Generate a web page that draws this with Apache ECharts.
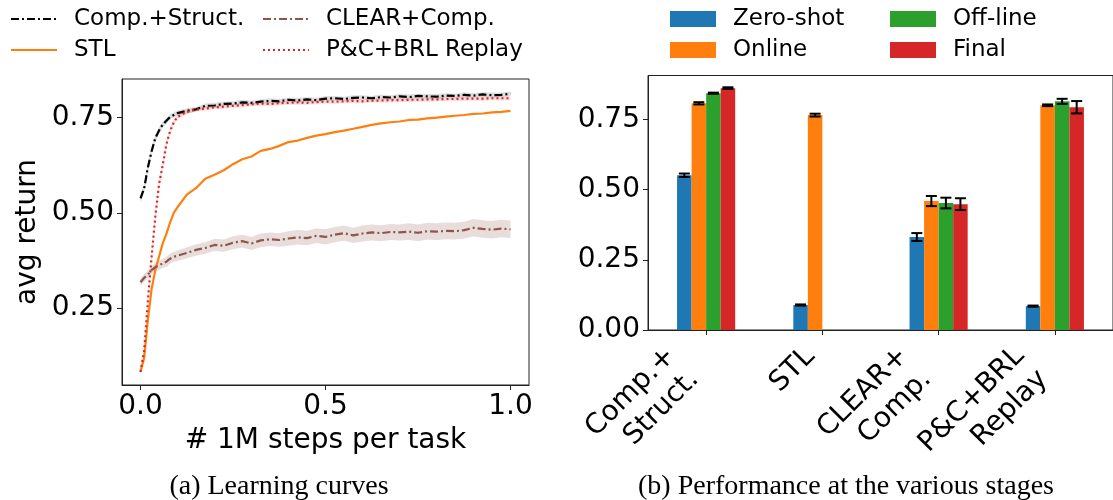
<!DOCTYPE html>
<html><head><meta charset="utf-8">
<script src="https://cdn.jsdelivr.net/npm/echarts@6/dist/echarts.min.js"></script>
<style>html,body{margin:0;padding:0;background:#fff}#c{width:1113px;height:500px}</style>
</head><body><div id="c"></div>
<script>
// ---------- (a) Learning curves ----------
const steps = [0,0.01,0.02,0.03,0.04,0.05,0.06,0.07,0.08,0.09,0.1,0.125,0.15,0.175,0.2,0.225,0.25,0.275,0.3,0.325,0.35,0.375,0.4,0.425,0.45,0.475,0.5,0.525,0.55,0.575,0.6,0.625,0.65,0.675,0.7,0.725,0.75,0.775,0.8,0.825,0.85,0.875,0.9,0.925,0.95,0.975,1.0];
const compStruct = [0.538,0.565,0.62,0.662,0.696,0.716,0.732,0.742,0.752,0.757,0.762,0.768,0.772,0.781,0.782,0.786,0.787,0.790,0.789,0.792,0.794,0.793,0.797,0.795,0.798,0.796,0.800,0.801,0.799,0.802,0.803,0.801,0.804,0.803,0.806,0.804,0.807,0.806,0.805,0.808,0.807,0.810,0.808,0.811,0.809,0.810,0.813];
const compStructBand = [0.012,0.012,0.012,0.011,0.010,0.009,0.008,0.008,0.007,0.007,0.007,0.007,0.006,0.006,0.007,0.006,0.006,0.007,0.006,0.006,0.007,0.006,0.006,0.007,0.006,0.006,0.007,0.006,0.006,0.007,0.006,0.006,0.007,0.006,0.006,0.007,0.006,0.006,0.007,0.006,0.006,0.007,0.006,0.006,0.007,0.006,0.006];
const stl = [0.083,0.12,0.22,0.30,0.35,0.385,0.42,0.445,0.475,0.50,0.515,0.548,0.565,0.590,0.600,0.612,0.628,0.641,0.648,0.663,0.668,0.676,0.686,0.690,0.697,0.703,0.707,0.712,0.716,0.721,0.726,0.731,0.735,0.738,0.740,0.744,0.745,0.748,0.750,0.753,0.755,0.757,0.760,0.761,0.764,0.765,0.768];
const clearComp = [0.318,0.33,0.338,0.35,0.358,0.362,0.368,0.372,0.38,0.385,0.388,0.395,0.403,0.408,0.416,0.414,0.422,0.426,0.420,0.428,0.431,0.429,0.433,0.436,0.434,0.440,0.437,0.443,0.447,0.441,0.446,0.449,0.447,0.450,0.449,0.451,0.448,0.452,0.451,0.453,0.452,0.455,0.461,0.458,0.456,0.459,0.457];
const clearCompBand = [0.010,0.010,0.011,0.011,0.012,0.012,0.012,0.013,0.013,0.013,0.014,0.014,0.015,0.015,0.016,0.016,0.017,0.017,0.017,0.018,0.018,0.018,0.019,0.019,0.019,0.019,0.020,0.020,0.020,0.020,0.021,0.021,0.021,0.021,0.021,0.022,0.022,0.022,0.022,0.022,0.022,0.022,0.023,0.023,0.023,0.023,0.023];
const pcReplay = [0.083,0.14,0.27,0.385,0.49,0.575,0.625,0.68,0.715,0.738,0.752,0.765,0.771,0.774,0.777,0.779,0.781,0.783,0.785,0.787,0.786,0.788,0.789,0.790,0.789,0.791,0.792,0.792,0.793,0.794,0.793,0.795,0.795,0.796,0.796,0.797,0.797,0.798,0.798,0.799,0.799,0.800,0.800,0.800,0.801,0.801,0.801];
const pcReplayBand = [0.004,0.008,0.012,0.014,0.014,0.012,0.010,0.009,0.008,0.007,0.006,0.006,0.005,0.006,0.005,0.006,0.005,0.006,0.005,0.006,0.005,0.006,0.005,0.006,0.005,0.006,0.005,0.006,0.005,0.006,0.005,0.006,0.005,0.006,0.005,0.006,0.005,0.006,0.005,0.006,0.005,0.006,0.005,0.006,0.005,0.006,0.005];
const lineXTicks = [0, 0.5, 1.0];
const lineYTicks = [0.25, 0.5, 0.75];

// ---------- (b) Performance at the various stages ----------
const categories = ['Comp.+\nStruct.', 'STL', 'CLEAR+\nComp.', 'P&C+BRL\nReplay'];
const stageNames = ['Zero-shot', 'Online', 'Off-line', 'Final'];
const zeroShot = [0.551, 0.089, 0.331, 0.085];
const zeroShotErr = [0.006, 0.002, 0.014, 0.002];
const online = [0.807, 0.765, 0.459, 0.800];
const onlineErr = [0.004, 0.005, 0.018, 0.003];
const offline = [0.843, 0, 0.452, 0.814];
const offlineErr = [0.002, 0, 0.019, 0.009];
const finalStage = [0.861, 0, 0.448, 0.793];
const finalErr = [0.003, 0, 0.021, 0.022];
const barYTicks = [0, 0.25, 0.5, 0.75];

const F = 'DejaVu Sans';
const chart = echarts.init(document.getElementById('c'), null, {renderer: 'canvas'});

function lineSeries(name, arr, color, type, z) {
  return {name, type: 'line', xAxisIndex: 0, yAxisIndex: 0,
    data: steps.map((x, i) => [x, arr[i]]), symbol: 'none', showSymbol: false,
    lineStyle: {color, width: 2.2, type}, itemStyle: {color}, z, animation: false};
}
function bandSeries(mean, band, fill) {
  return {type: 'custom', xAxisIndex: 0, yAxisIndex: 0, data: [[0, 0.5]], silent: true, z: 1,
    animation: false, encode: {x: 0, y: 1},
    renderItem: (p, api) => {
      const up = steps.map((x, i) => api.coord([x, mean[i] + band[i]]));
      const lo = steps.map((x, i) => api.coord([x, mean[i] - band[i]])).reverse();
      return {type: 'polygon', shape: {points: up.concat(lo)}, style: {fill}};
    }};
}
const barColors = ['#1f77b4', '#ff7f0e', '#2ca02c', '#d62728'];
const barVals = [zeroShot, online, offline, finalStage];
const barErrs = [zeroShotErr, onlineErr, offlineErr, finalErr];
function barSeries(k) {
  return {name: stageNames[k], type: 'bar', xAxisIndex: 1, yAxisIndex: 1,
    data: barVals[k], barWidth: '12.5%', barGap: '0%', itemStyle: {color: barColors[k]},
    animation: false, z: 2};
}
function errSeries(k) {
  return {type: 'custom', xAxisIndex: 1, yAxisIndex: 1, silent: true, z: 5, animation: false,
    data: barVals[k].map((v, i) => [i, v, barErrs[k][i]]), encode: {x: 0, y: 1},
    renderItem: (p, api) => {
      const cat = api.value(0), v = api.value(1), e = api.value(2);
      if (!e) return null;
      const bw = api.size([1, 0])[0] * 0.125;
      const x = api.coord([cat, v])[0] + (k - 1.5) * bw;
      const hi = api.coord([cat, v + e])[1], lo = api.coord([cat, v - e])[1];
      const cap = 5.5, st = {stroke: '#000', lineWidth: 2};
      return {type: 'group', children: [
        {type: 'line', shape: {x1: x, y1: hi, x2: x, y2: lo}, style: st},
        {type: 'line', shape: {x1: x - cap, y1: hi, x2: x + cap, y2: hi}, style: st},
        {type: 'line', shape: {x1: x - cap, y1: lo, x2: x + cap, y2: lo}, style: st}
      ]};
    }};
}

const axisCommon = {
  axisLine: {show: true, onZero: false, lineStyle: {color: '#222', width: 1}},
  splitLine: {show: false},
};
const legendText = {fontFamily: F, fontSize: 23, color: '#000', lineHeight: 26, padding: [0, 0, 0, 12]};
const legendCommon = {orient: 'vertical', itemWidth: 46, itemGap: 5, textStyle: legendText, selectedMode: false};
const lineLegend = Object.assign({}, legendCommon, {itemHeight: 14, itemStyle: {opacity: 0, color: 'transparent', borderWidth: 0}});
const barLegend = Object.assign({}, legendCommon, {itemHeight: 16, icon: 'rect'});

const option = {
  backgroundColor: '#fff',
  animation: false,
  grid: [
    {left: 122, top: 79, width: 407, height: 306, show: true, borderColor: '#222', borderWidth: 1, backgroundColor: 'transparent'},
    {left: 648, top: 75.5, width: 470, height: 254.5, show: true, borderColor: '#222', borderWidth: 1, backgroundColor: 'transparent'}
  ],
  xAxis: [
    Object.assign({}, axisCommon, {type: 'value', gridIndex: 0, min: -0.05, max: 1.05,
      axisLabel: {customValues: lineXTicks, formatter: v => v.toFixed(1), fontFamily: F, fontSize: 28, color: '#000', margin: 8},
      axisTick: {show: true, length: 5, customValues: lineXTicks, lineStyle: {color: '#222'}},
      name: '# 1M steps per task', nameLocation: 'middle', nameGap: 42,
      nameTextStyle: {fontFamily: F, fontSize: 28, color: '#000'}}),
    Object.assign({}, axisCommon, {type: 'category', gridIndex: 1, data: categories,
      axisTick: {show: true, length: 5, alignWithLabel: true, lineStyle: {color: '#222'}},
      axisLabel: {interval: 0, rotate: 45, color: '#000', margin: 10,
        formatter: v => v.indexOf('\n') >= 0 ? v.split('\n').map(s => '{d|' + s + '}').join('\n') : '{s|' + v + '}',
        rich: {
          s: {fontFamily: F, fontSize: 28, lineHeight: 33, color: '#000', padding: [0, 17, 0, 0]},
          d: {fontFamily: F, fontSize: 28, lineHeight: 33, color: '#000', padding: [0, 33, 0, 0]}
        }}})
  ],
  yAxis: [
    Object.assign({}, axisCommon, {type: 'value', gridIndex: 0, min: 0.0485, max: 0.8515,
      axisLabel: {customValues: lineYTicks, formatter: v => v.toFixed(2), fontFamily: F, fontSize: 28, color: '#000', margin: 8},
      axisTick: {show: true, length: 5, customValues: lineYTicks, lineStyle: {color: '#222'}},
      name: 'avg return', nameLocation: 'middle', nameGap: 80,
      nameTextStyle: {fontFamily: F, fontSize: 28, color: '#000'}}),
    Object.assign({}, axisCommon, {type: 'value', gridIndex: 1, min: 0, max: 0.906,
      axisLabel: {customValues: barYTicks, formatter: v => v.toFixed(2), fontFamily: F, fontSize: 28, color: '#000', margin: 8},
      axisTick: {show: true, length: 5, customValues: barYTicks, lineStyle: {color: '#222'}}})
  ],
  legend: [
    Object.assign({}, lineLegend, {data: ['Comp.+Struct.', 'STL'], left: 5, top: 1}),
    Object.assign({}, lineLegend, {data: ['CLEAR+Comp.', 'P&C+BRL Replay'], left: 257, top: 1}),
    Object.assign({}, barLegend, {data: ['Zero-shot', 'Online'], left: 665, top: 1}),
    Object.assign({}, barLegend, {data: ['Off-line', 'Final'], left: 885, top: 1})
  ],
  graphic: [
    {type: 'text', style: {text: '(a) Learning curves', x: 279, y: 487, align: 'center', verticalAlign: 'middle', fontFamily: 'Liberation Serif', fontSize: 28, fill: '#000'}},
    {type: 'text', style: {text: '(b) Performance at the various stages', x: 846, y: 487, align: 'center', verticalAlign: 'middle', fontFamily: 'Liberation Serif', fontSize: 28, fill: '#000'}}
  ],
  series: [
    bandSeries(compStruct, compStructBand, 'rgba(0,0,0,0.13)'),
    bandSeries(clearComp, clearCompBand, 'rgba(140,86,75,0.2)'),
    bandSeries(pcReplay, pcReplayBand, 'rgba(214,39,40,0.15)'),
    lineSeries('Comp.+Struct.', compStruct, '#000000', [8, 3, 2, 3], 3),
    lineSeries('STL', stl, '#ff7f0e', 'solid', 3),
    lineSeries('CLEAR+Comp.', clearComp, '#8c564b', [8, 3, 2, 3], 3),
    lineSeries('P&C+BRL Replay', pcReplay, '#d62728', [2, 3], 4),
    barSeries(0), barSeries(1), barSeries(2), barSeries(3),
    errSeries(0), errSeries(1), errSeries(2), errSeries(3)
  ]
};
chart.setOption(option);
</script></body></html>
